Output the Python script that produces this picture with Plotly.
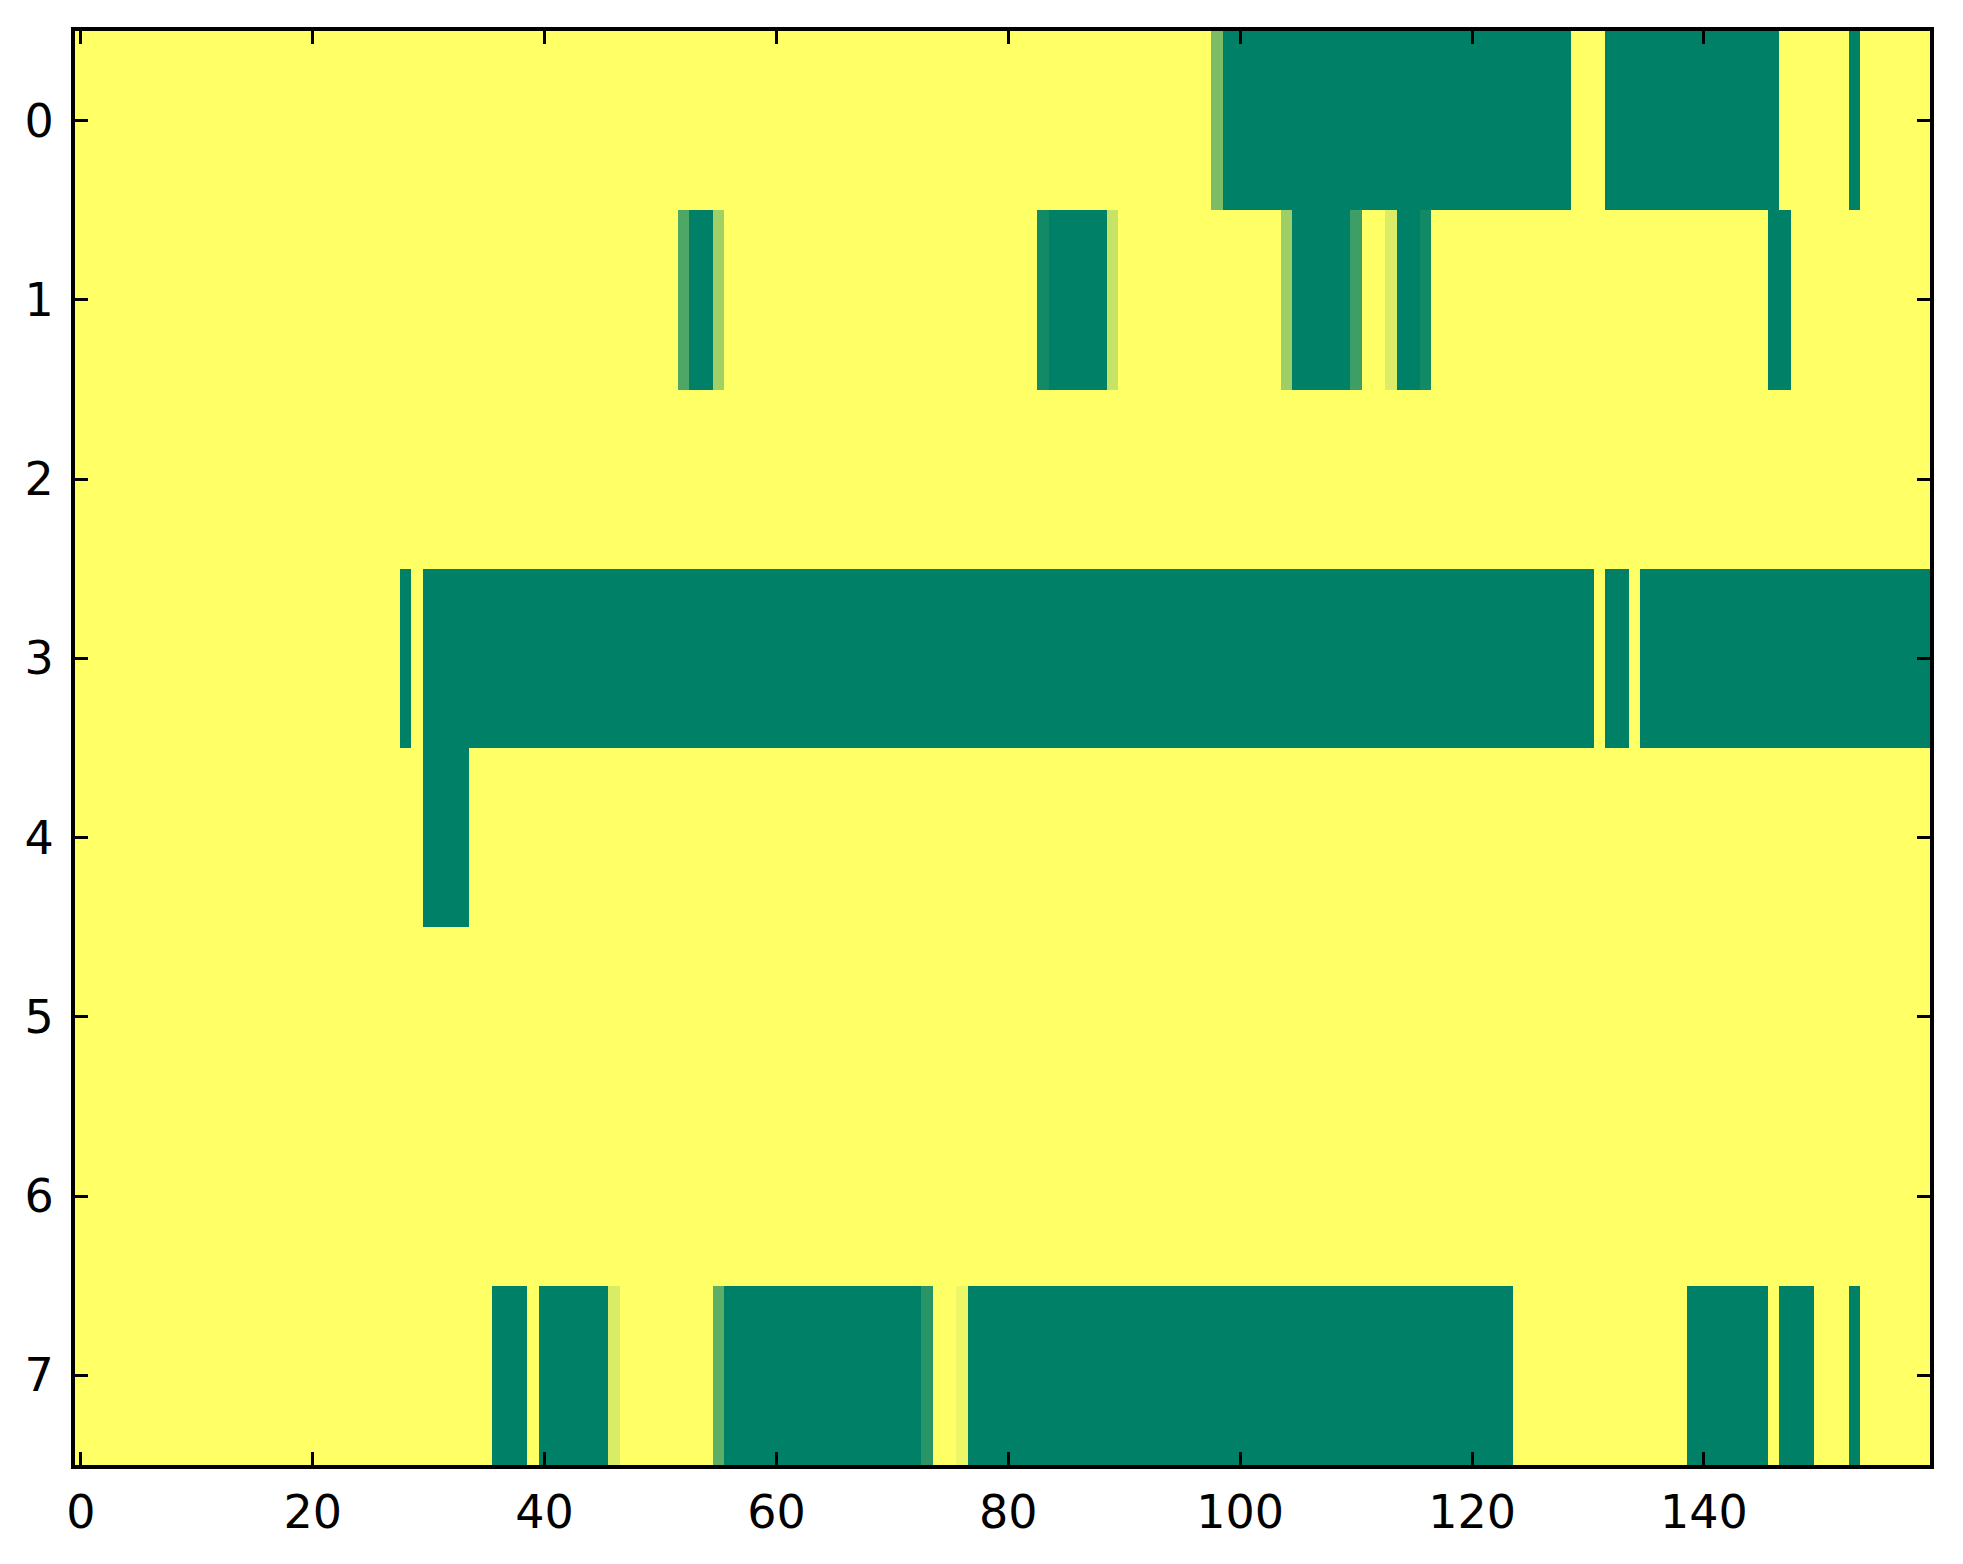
import plotly.graph_objects as go

# each row is written as runs of (value, number of columns), left to right
row0 = [(1, 98), (0.48, 1), (0, 30), (1, 3), (0, 15), (1, 6), (0, 1), (1, 6)]
row1 = [(1, 52), (0.31, 1), (0, 2), (0.63, 1), (1, 27), (0.075, 1), (0, 5),
        (0.78, 1), (1, 14), (0.62, 1), (0, 5), (0.24, 1), (1, 2), (0.86, 1),
        (0, 2), (0.075, 1), (1, 29), (0, 2), (1, 12)]
row2 = [(1, 160)]
row3 = [(1, 28), (0, 1), (1, 1), (0, 101), (1, 1), (0, 2), (1, 1), (0, 25)]
row4 = [(1, 30), (0, 4), (1, 126)]
row5 = [(1, 160)]
row6 = [(1, 160)]
row7 = [(1, 36), (0, 3), (1, 1), (0, 6), (0.85, 1), (1, 8), (0.37, 1), (0, 17),
        (0.16, 1), (1, 2), (0.93, 1), (0, 47), (1, 15), (0, 7), (1, 1), (0, 3),
        (1, 3), (0, 1), (1, 6)]

x_ticks = [0, 20, 40, 60, 80, 100, 120, 140]
y_ticks = [0, 1, 2, 3, 4, 5, 6, 7]


def expand(runs):
    out = []
    for value, count in runs:
        out.extend([value] * count)
    return out


rows = [row0, row1, row2, row3, row4, row5, row6, row7]
z = [expand(r) for r in rows]

# matplotlib "summer" colormap
summer = [[0.0, "rgb(0,128,102)"], [1.0, "rgb(255,255,102)"]]

fig = go.Figure(go.Heatmap(
    z=z,
    colorscale=summer,
    zmin=0, zmax=1,
    showscale=False,
    hoverinfo="skip",
))

axis_style = dict(
    showline=True, linecolor="black", linewidth=4, mirror="ticks",
    ticks="inside", ticklen=13, tickwidth=2.5, tickcolor="black",
    showgrid=False, zeroline=False,
    tickfont=dict(family="DejaVu Sans", size=46, color="black"),
)

fig.update_xaxes(
    range=[-0.5, 159.5], tickvals=x_ticks, ticklabelstandoff=4, **axis_style
)
fig.update_yaxes(
    range=[7.5, -0.5], tickvals=y_ticks, ticklabelstandoff=8, **axis_style
)

fig.update_layout(
    paper_bgcolor="white",
    plot_bgcolor="white",
    margin=dict(l=67, r=25, t=23, b=91),
    font=dict(family="DejaVu Sans", color="black"),
)

fig.write_html("out.html")
